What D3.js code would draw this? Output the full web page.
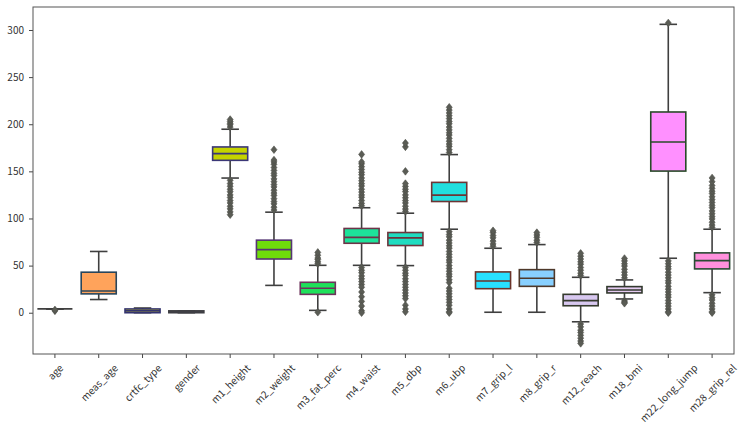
<!DOCTYPE html>
<html>
<head>
<meta charset="utf-8">
<script src="https://cdn.jsdelivr.net/npm/d3@7"></script>
<style>
body { margin: 0; background: #fff; }
</style>
</head>
<body>
<div id="chart"></div>
<script>
var categories = ["age", "meas_age", "crtfc_type", "gender", "m1_height", "m2_weight", "m3_fat_perc", "m4_waist",
  "m5_dbp", "m6_ubp", "m7_grip_l", "m8_grip_r", "m12_reach", "m18_bmi", "m22_long_jump", "m28_grip_rel"];

var q1Values     = [4, 20, 0, 0, 161.7, 57, 19.5, 73.7, 71.3, 118, 25.5, 28, 7.4, 21, 150.3, 46.5];
var medianValues = [4, 23, 2, 1, 168.8, 67, 26, 80, 79.4, 124.8, 33.7, 36.5, 12.8, 24.1, 181.2, 55.3];
var q3Values     = [4, 43, 4, 2, 175.9, 77, 32.3, 89.4, 85.1, 138.3, 43.3, 45.7, 19.5, 27.7, 213, 63.5];
var whiskerLow   = [4, 14, 0, 0, 142.9, 29, 2.5, 50.3, 50, 88.6, 0.5, 0.5, -9.6, 14.6, 57.8, 21.3];
var whiskerHigh  = [4, 65, 5, 2, 194.7, 106.7, 50.3, 111.4, 105.6, 167.8, 68.4, 72.3, 37.6, 34.8, 306, 88.6];

var fliers = [
  [2, 3],
  [],
  [],
  [],
  [197, 199.5, 201, 203, 205, 140.5, 137, 134.2, 131, 128.4, 125, 122.3, 119, 116.5, 113, 110.2, 107, 104],
  [109, 112, 115.5, 118, 121, 124.5, 127, 130, 133.5, 136, 139, 142, 145.5, 148, 151, 154, 157.5, 160, 162, 173],
  [52, 54, 56.5, 58, 61, 64, 0.5],
  [113.5, 116, 119, 122.5, 125, 128, 131, 134.5, 137, 140, 143, 146.5, 149, 152, 155, 158, 160, 168,
   48, 45, 42.5, 39, 36, 33, 30, 27, 22, 17, 12, 7, 2, 0],
  [107.5, 110, 113, 116.5, 119, 122, 125, 128.5, 131, 134, 137, 150, 176, 180,
   48, 45, 42, 39.5, 36, 33, 30, 27, 24, 21, 18, 15, 8, 4, 1],
  [170, 173, 176.5, 179, 182, 185, 188.5, 191, 194, 197, 200.5, 203, 206, 209, 212, 215, 218,
   86, 83, 80.5, 77, 74, 71, 68.5, 65, 62, 59, 56, 53.5, 50, 47, 44, 41, 38.5, 35, 32, 26, 23, 20, 17, 14, 11, 8, 4, 1, 0],
  [70.5, 73, 76, 79.5, 82, 85, 87],
  [74.5, 77, 80, 82.5, 85],
  [39.5, 42, 45, 48, 51.5, 54, 57, 60, 63,
   -12, -15, -18.5, -21, -24, -27, -30, -32.5],
  [37, 40, 43, 46, 49.5, 52, 55, 57.5, 12.5, 11, 10],
  [307.5, 55, 52, 49, 46.5, 43, 40, 37, 34, 31.5, 28, 25, 22, 19, 16.5, 13, 10, 7, 4, 1, 0],
  [90.5, 93, 96, 99.5, 102, 105, 108, 111.5, 114, 117, 120, 123, 126.5, 129, 132, 135, 139, 143,
   19, 16, 13.5, 10, 7, 4, 1, 0]
];

var boxColors = ["#ff8a80", "#ffa35b", "#dede1a", "#b8b8a8", "#c5d300", "#6fdc0b", "#1ee05a", "#1de29a",
  "#20dcc0", "#22dede", "#28e0ff", "#88d0ff", "#d8c8f0", "#e6ccf2", "#ff90ff", "#ff90dd"];

var yTicks = [0, 50, 100, 150, 200, 250, 300];

var W = 743, H = 430;
var plot = {left: 33, right: 734, top: 7, bottom: 354};
var lineGray = "#3f3f3f";
var flierGray = "#5a5c55";
var fontFam = "'Noto Sans CJK KR', 'Noto Sans', sans-serif";

var svg = d3.select("#chart")
  .append("svg")
    .attr("width", W)
    .attr("height", H);

var x = d3.scaleBand()
  .domain(categories)
  .range([plot.left, plot.right])
  .padding(0);

var y = d3.scaleLinear()
  .domain([-43.8, 324.4])
  .range([plot.bottom, plot.top]);

// axes
var yAxis = svg.append("g")
  .attr("transform", "translate(" + plot.left + ",0)")
  .call(d3.axisLeft(y).tickValues(yTicks).tickSize(4).tickPadding(5));
yAxis.select(".domain").remove();
yAxis.selectAll("line").attr("stroke", "#444");
yAxis.selectAll("text").attr("fill", "#333").style("font-family", fontFam).style("font-size", "10px");

var xAxis = svg.append("g")
  .attr("transform", "translate(0," + plot.bottom + ")")
  .call(d3.axisBottom(x).tickSize(4).tickFormat(""));
xAxis.select(".domain").remove();
xAxis.selectAll("line").attr("stroke", "#444");

// rotated x labels, bbox centred under tick
var labelTop = plot.bottom + 8;
svg.append("g").selectAll("text")
  .data(categories)
  .enter()
  .append("text")
    .text(function(d) { return d; })
    .attr("text-anchor", "middle")
    .attr("dominant-baseline", "central")
    .attr("fill", "#333")
    .style("font-family", fontFam)
    .style("font-size", "10px")
    .each(function(d) {
      var len = this.getComputedTextLength();
      var half = (len + 10) * Math.SQRT1_2 / 2;
      var cx = x(d) + x.bandwidth() / 2;
      var cy = labelTop + half;
      d3.select(this)
        .attr("x", cx).attr("y", cy)
        .attr("transform", "rotate(-45," + cx + "," + cy + ")");
    });

// boxes
var boxW = x.bandwidth() * 0.8;
var idx = d3.range(categories.length);

function edgeColor(c) {
  var r = d3.rgb(c);
  var comp = d3.rgb(255 - r.r, 255 - r.g, 255 - r.b);
  return d3.interpolateRgb("#3c3c3c", comp)(0.3);
}

var g = svg.append("g");

idx.forEach(function(i) {
  var cx = x(categories[i]) + x.bandwidth() / 2;
  var edge = edgeColor(boxColors[i]);

  // whiskers
  g.append("line")
    .attr("x1", cx).attr("x2", cx)
    .attr("y1", y(q3Values[i])).attr("y2", y(whiskerHigh[i]))
    .attr("stroke", lineGray).attr("stroke-width", 1.6);
  g.append("line")
    .attr("x1", cx).attr("x2", cx)
    .attr("y1", y(q1Values[i])).attr("y2", y(whiskerLow[i]))
    .attr("stroke", lineGray).attr("stroke-width", 1.6);
  [whiskerLow[i], whiskerHigh[i]].forEach(function(v) {
    g.append("line")
      .attr("x1", cx - boxW / 4).attr("x2", cx + boxW / 4)
      .attr("y1", y(v)).attr("y2", y(v))
      .attr("stroke", lineGray).attr("stroke-width", 1.6);
  });

  // box
  var top = y(q3Values[i]), bot = y(q1Values[i]);
  if (bot - top < 0.5) {
    g.append("line")
      .attr("x1", cx - boxW / 2).attr("x2", cx + boxW / 2)
      .attr("y1", top).attr("y2", top)
      .attr("stroke", lineGray).attr("stroke-width", 1.8);
  } else {
    g.append("rect")
      .attr("x", cx - boxW / 2)
      .attr("y", top)
      .attr("width", boxW)
      .attr("height", bot - top)
      .attr("fill", boxColors[i])
      .attr("stroke", edge)
      .attr("stroke-width", 1.6);
    g.append("line")
      .attr("x1", cx - boxW / 2).attr("x2", cx + boxW / 2)
      .attr("y1", y(medianValues[i])).attr("y2", y(medianValues[i]))
      .attr("stroke", edge).attr("stroke-width", 1.6);
  }

  // fliers
  g.selectAll(null)
    .data(fliers[i])
    .enter()
    .append("path")
      .attr("d", "M0,-3.8L3,0L0,3.8L-3,0Z")
      .attr("transform", function(v) { return "translate(" + cx + "," + y(v) + ")"; })
      .attr("fill", flierGray)
      .attr("stroke", "#4d4f48")
      .attr("stroke-width", 0.6);
});

// frame
svg.append("rect")
  .attr("x", plot.left).attr("y", plot.top)
  .attr("width", plot.right - plot.left)
  .attr("height", plot.bottom - plot.top)
  .attr("fill", "none")
  .attr("stroke", "#555")
  .attr("stroke-width", 1);
</script>
</body>
</html>
